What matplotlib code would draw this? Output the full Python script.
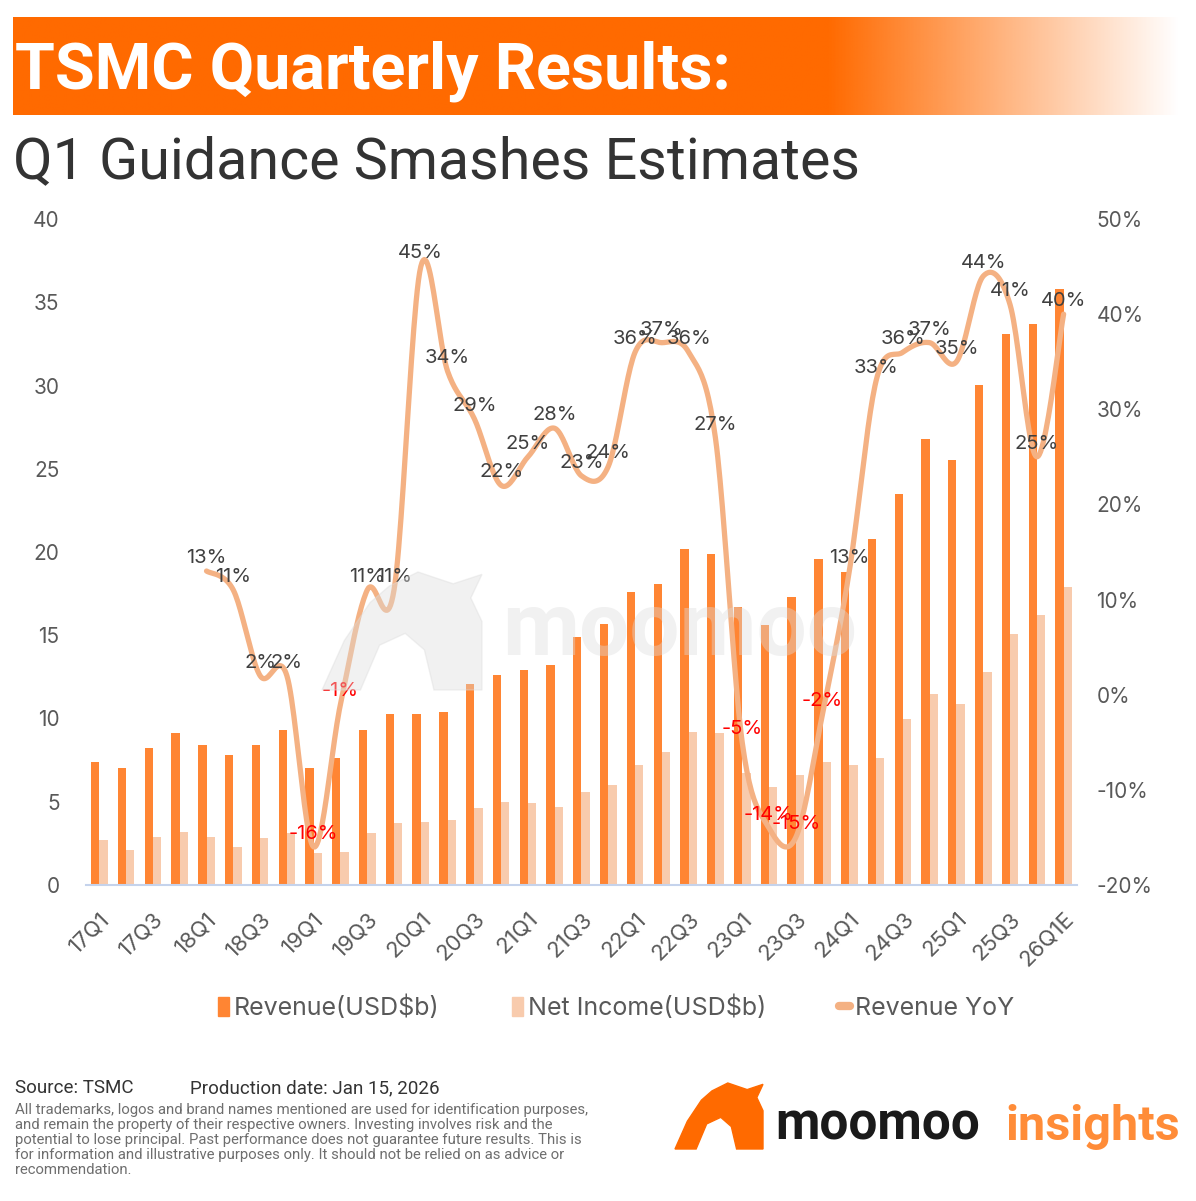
import numpy as np
import matplotlib.pyplot as plt
from matplotlib.lines import Line2D
from matplotlib.patches import Patch, Polygon

plt.rcParams['font.family'] = ['Inter', 'DejaVu Sans']

quarters = ['17Q1', '17Q2', '17Q3', '17Q4', '18Q1', '18Q2', '18Q3', '18Q4',
            '19Q1', '19Q2', '19Q3', '19Q4', '20Q1', '20Q2', '20Q3', '20Q4',
            '21Q1', '21Q2', '21Q3', '21Q4', '22Q1', '22Q2', '22Q3', '22Q4',
            '23Q1', '23Q2', '23Q3', '23Q4', '24Q1', '24Q2', '24Q3', '24Q4',
            '25Q1', '25Q2', '25Q3', '25Q4', '26Q1E']
revenue = [7.4, 7.0, 8.2, 9.1, 8.4, 7.8, 8.4, 9.3,
           7.0, 7.6, 9.3, 10.3, 10.3, 10.4, 12.1, 12.6,
           12.9, 13.2, 14.9, 15.7, 17.6, 18.1, 20.2, 19.9,
           16.7, 15.6, 17.3, 19.6, 18.8, 20.8, 23.5, 26.8,
           25.5, 30.0, 33.1, 33.7, 35.8]
net_income = [2.7, 2.1, 2.9, 3.2, 2.9, 2.3, 2.8, 3.1,
              1.9, 2.0, 3.1, 3.7, 3.8, 3.9, 4.6, 5.0,
              4.9, 4.7, 5.6, 6.0, 7.2, 8.0, 9.2, 9.1,
              6.7, 5.9, 6.6, 7.4, 7.2, 7.6, 10.0, 11.5,
              10.9, 12.8, 15.1, 16.2, 17.9]
# YoY starts at 18Q1
yoy_start = 4
revenue_yoy = [13, 11, 2, 2, -16, -1, 11, 11,
               45, 34, 29, 22, 25, 28, 23, 24,
               36, 37, 36, 27, -5, -14, -15, -2,
               13, 33, 36, 37, 35, 44, 41, 25, 40]

C_REV = '#FF8533'
C_NI = '#F8CBAD'
C_YOY = '#F4B183'
C_TXT = '#595959'

# rough bull logo outline (unit box, y up)
BULL = [(0.0, 0.0), (0.24, 0.0), (0.36, 0.38), (0.52, 0.48), (0.64, 0.34), (0.7, 0.0),
        (1.0, 0.0), (1.0, 0.58), (0.93, 0.78), (1.0, 0.98), (0.82, 0.9), (0.6, 1.0),
        (0.42, 0.88), (0.3, 0.74), (0.14, 0.42)]


def smooth(x, y, n=24):
    # excel-style smoothed line (catmull-rom bezier)
    x = np.asarray(x, float)
    y = np.asarray(y, float)
    px = np.concatenate([[x[0]], x, [x[-1]]])
    py = np.concatenate([[y[0]], y, [y[-1]]])
    xs, ys = [], []
    t = np.linspace(0, 1, n)
    for i in range(1, len(px) - 2):
        p0 = np.array([px[i - 1], py[i - 1]])
        p1 = np.array([px[i], py[i]])
        p2 = np.array([px[i + 1], py[i + 1]])
        p3 = np.array([px[i + 2], py[i + 2]])
        c1 = p1 + (p2 - p0) / 6
        c2 = p2 - (p3 - p1) / 6
        b = ((1 - t) ** 3)[:, None] * p1 + (3 * (1 - t) ** 2 * t)[:, None] * c1 \
            + (3 * (1 - t) * t ** 2)[:, None] * c2 + (t ** 3)[:, None] * p2
        xs.extend(b[:, 0])
        ys.extend(b[:, 1])
    return xs, ys


def bull(fig, x0, y0, w, h, **kw):
    W_, H_ = fig.bbox.width, fig.bbox.height
    pts = [((x0 + px * w) / W_, 1 - (y0 + h - py * h) / H_) for px, py in BULL]
    fig.patches.append(Polygon(pts, closed=True, transform=fig.transFigure, **kw))


W, H = 1196, 1201
fig = plt.figure(figsize=(W / 100, H / 100), dpi=100)

# title banner with fade to white
bx = fig.add_axes([13 / W, 1 - 115 / H, (1180 - 13) / W, 98 / H])
grad = np.ones((2, 600, 4))
grad[..., 0] = 1.0
grad[..., 1] = 106 / 255
grad[..., 2] = 0.0
xf = np.linspace(0, 1, 600)
grad[..., 3] = np.clip((1 - xf) / (1 - 0.70), 0, 1)
bx.imshow(grad, aspect='auto', extent=[0, 1, 0, 1])
bx.axis('off')

fig.text(15 / W, 1 - 88 / H, 'TSMC Quarterly Results:', color='white',
         fontsize=46.5, fontweight='bold', family=['Roboto', 'DejaVu Sans'], va='baseline')
fig.text(13 / W, 1 - 178 / H, 'Q1 Guidance Smashes Estimates', color='#333333',
         fontsize=41.3, family=['Roboto', 'DejaVu Sans'], va='baseline')

# main chart
ax = fig.add_axes([86 / W, 1 - 885 / H, (1077 - 86) / W, (885 - 219) / H])
x = np.arange(len(quarters))
bw = 0.31
ax.bar(x - bw / 2, revenue, bw, color=C_REV, label='Revenue(USD$b)', zorder=2)
ax.bar(x + bw / 2, net_income, bw, color=C_NI, label='Net Income(USD$b)', zorder=2)
ax.set_xlim(-0.5, len(quarters) - 0.5)
ax.set_ylim(0, 40)
ax.set_yticks(range(0, 41, 5))
ax.set_xticks(x[::2])
ax.set_xticklabels(quarters[::2], rotation=45, ha='right', rotation_mode='anchor')
ax.tick_params(axis='y', length=0, pad=19, labelsize=15, labelcolor=C_TXT)
ax.tick_params(axis='x', length=0, pad=17, labelsize=16, labelcolor=C_TXT)
for s in ['top', 'left', 'right']:
    ax.spines[s].set_visible(False)
ax.spines['bottom'].set_color('#C5D3EC')
ax.spines['bottom'].set_linewidth(1.5)

ax2 = ax.twinx()
ax2.set_ylim(-20, 50)
ax2.set_yticks(range(-20, 51, 10))
ax2.set_yticklabels([f'{v}%' for v in range(-20, 51, 10)])
ax2.tick_params(axis='y', length=0, pad=14, labelsize=15, labelcolor=C_TXT)
for s in ax2.spines.values():
    s.set_visible(False)

xl = x[yoy_start:]
sx, sy = smooth(xl, revenue_yoy)
ax2.plot(sx, sy, color=C_YOY, lw=3.8, solid_capstyle='round', zorder=3)
for xi, v in zip(xl, revenue_yoy):
    ax2.annotate(f'{v}%', (xi, v), xytext=(0, 3), textcoords='offset points',
                 ha='center', va='bottom', fontsize=14.5,
                 color='#FF0000' if v < 0 else '#404040', zorder=4)

# watermark
fig.text(680 / W, 1 - 630 / H, 'moomoo', color='#DCDCDC', alpha=0.4, fontsize=64,
         fontweight='bold', family=['Roboto', 'DejaVu Sans'], ha='center', va='center', zorder=10)
bull(fig, 322, 572, 160, 118, color='#DCDCDC', alpha=0.4, zorder=10)

handles = [Patch(color=C_REV), Patch(color=C_NI),
           Line2D([0], [0], color=C_YOY, lw=6, solid_capstyle='round')]
fig.legend(handles, ['Revenue(USD$b)', 'Net Income(USD$b)', 'Revenue YoY'],
           loc='center', bbox_to_anchor=(616 / W, 1 - 1008 / H), ncol=3, frameon=False,
           fontsize=18, handlelength=0.45, handleheight=0.8, handletextpad=0.2,
           columnspacing=2.9, labelcolor=C_TXT)

# footer
ff = ['Roboto', 'DejaVu Sans']
fig.text(15 / W, 1 - 1088 / H, 'Source: TSMC', fontsize=13.5, color='#333333',
         family=ff, va='center')
fig.text(190 / W, 1 - 1088 / H, 'Production date: Jan 15, 2026', fontsize=13.5,
         color='#333333', family=ff, va='center')
disclaimer = ['All trademarks, logos and brand names mentioned are used for identification purposes,',
              'and remain the property of their respective owners. Investing involves risk and the',
              'potential to lose principal. Past performance does not guarantee future results. This is',
              'for information and illustrative purposes only. It should not be relied on as advice or',
              'recommendation.']
for i, line in enumerate(disclaimer):
    fig.text(15 / W, 1 - (1110 + 15 * i) / H, line, fontsize=10.7, color='#6E6E6E',
             family=ff, va='center')

bull(fig, 675, 1083, 88, 66, color='#FF6A00', zorder=5)
fig.text(775 / W, 1 - 1140 / H, 'moomoo', fontsize=37, fontweight='bold', color='#1A1A1A',
         family=ff, va='baseline')
fig.text(1005 / W, 1 - 1140 / H, 'insights', fontsize=35, fontweight='bold', color='#FF8C38',
         family=ff, va='baseline')

fig.savefig('out.png', dpi=100)
